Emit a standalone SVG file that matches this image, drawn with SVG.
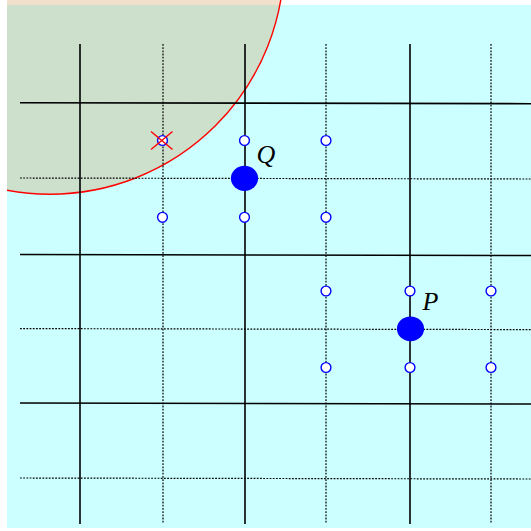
<svg xmlns="http://www.w3.org/2000/svg" width="531" height="531" viewBox="0 0 531 531">
<defs>
<clipPath id="clip"><rect x="7" y="0" width="524" height="531"/></clipPath>
<style>
.solid{stroke:#000;stroke-width:1.6;fill:none}
.dot{stroke:#000;stroke-width:1.2;stroke-dasharray:1.8 1.4;fill:none}
.small{fill:#fff;stroke:#0000ff;stroke-width:1.4}
.big{fill:#0000ff;stroke:none}
.lbl{font-family:"Liberation Serif",serif;font-style:italic;font-size:26px;fill:#000}
</style>
</defs>
<rect width="531" height="531" fill="#fff"/>
<g clip-path="url(#clip)">
<rect x="7" y="5" width="524" height="523" fill="#ccffff"/>
<circle id="disk" cx="50" cy="-40" r="234.2" fill="rgb(208,130,51)" fill-opacity="0.25" stroke="#ff0000" stroke-width="1.4"/>
</g>
<g id="connectors">
<line class="solid" x1="80" y1="44" x2="80" y2="524"/>
<line class="solid" x1="245" y1="44" x2="245" y2="524"/>
<line class="solid" x1="410" y1="44" x2="410" y2="524"/>
<line class="dot" x1="163" y1="44" x2="163" y2="524"/>
<line class="dot" x1="326" y1="44" x2="326" y2="524"/>
<line class="dot" x1="491" y1="44" x2="491" y2="524"/>
<line class="solid" x1="20" y1="102.7" x2="531" y2="103.7"/>
<line class="solid" x1="20" y1="254.5" x2="531" y2="255.5"/>
<line class="solid" x1="20" y1="403" x2="531" y2="404"/>
<line class="dot" x1="20" y1="178" x2="531" y2="179"/>
<line class="dot" x1="20" y1="328.6" x2="531" y2="329.6"/>
<line class="dot" x1="20" y1="478" x2="531" y2="479"/>
</g>
<g id="points">
<circle class="small" cx="162.5" cy="140.5" r="4.9"/>
<circle class="small" cx="244.5" cy="140.5" r="4.9"/>
<circle class="small" cx="326" cy="140.5" r="4.9"/>
<circle class="small" cx="162.5" cy="217.3" r="4.9"/>
<circle class="small" cx="244.5" cy="217.3" r="4.9"/>
<circle class="small" cx="326" cy="217.3" r="4.9"/>
<circle class="small" cx="326" cy="291" r="4.9"/>
<circle class="small" cx="410" cy="291" r="4.9"/>
<circle class="small" cx="491" cy="291" r="4.9"/>
<circle class="small" cx="326" cy="367.5" r="4.9"/>
<circle class="small" cx="410" cy="367.5" r="4.9"/>
<circle class="small" cx="491" cy="367.5" r="4.9"/>
</g>
<g id="cross">
<line x1="151" y1="131.5" x2="172.5" y2="149.5" stroke="#ff0000" stroke-width="1.4"/>
<line x1="151" y1="149.5" x2="172.5" y2="131.5" stroke="#ff0000" stroke-width="1.4"/>
</g>
<g id="Q">
<ellipse class="big" cx="244.5" cy="178.3" rx="13.6" ry="12.6"/>
<text class="lbl" x="256.5" y="163">Q</text>
</g>
<g id="P">
<ellipse class="big" cx="410.5" cy="328.8" rx="13.6" ry="12.4"/>
<text class="lbl" x="422.5" y="310">P</text>
</g>
</svg>
